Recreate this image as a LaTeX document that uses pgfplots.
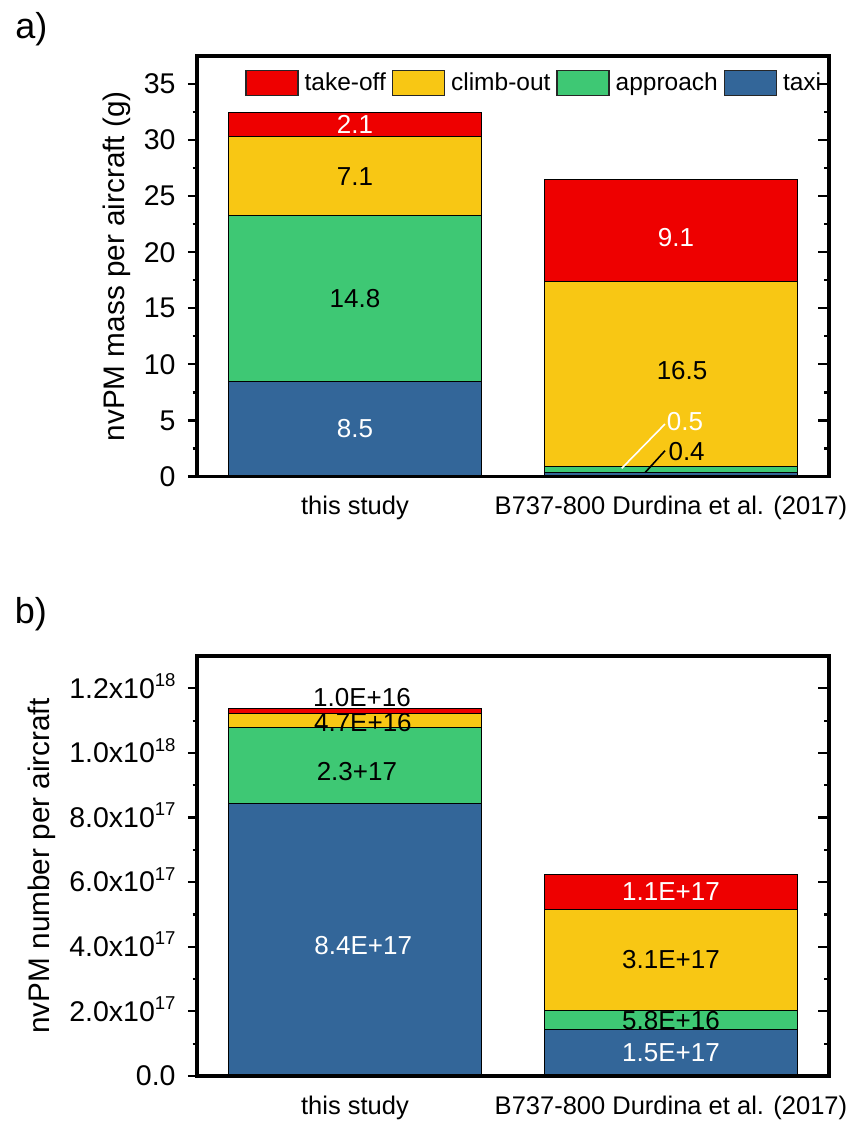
\documentclass[border=0pt]{standalone}
\usepackage{fontspec}
\setmainfont{Liberation Sans}
\usepackage{pgfplots}
\pgfplotsset{compat=1.18}
\definecolor{cTO}{HTML}{EE0000}
\definecolor{cCO}{HTML}{F8C714}
\definecolor{cAP}{HTML}{3EC874}
\definecolor{cTX}{HTML}{336699}
\newcommand{\sups}[1]{\smash{\raisebox{5.85pt}{\fontsize{9.3}{9.3}\selectfont #1}}}
\tikzset{lbl/.style={font=\fontsize{13}{14}\selectfont, inner sep=0pt}}
\pgfplotsset{
  common/.style={
    axis on top,
    scale only axis, width=316pt, xmin=0.5, xmax=2.5,
    ybar stacked, bar width=0.8,
    axis line style={line width=1.6pt},
    ytick pos=left, tick align=outside,
    major tick length=4.5pt, minor tick length=2.2pt,
    every tick/.style={black, line width=1.1pt},
    xtick={1,2}, xticklabels={this study, B737-800 Durdina et al. (2017)},
    xtick style={draw=none},
    xticklabel style={font=\fontsize{12.75}{14}\selectfont, anchor=base, yshift=-14.5pt},
    yticklabel style={font=\fontsize{14.25}{15}\selectfont, anchor=east, inner sep=0pt, xshift=-6pt},
    ylabel style={font=\fontsize{14.85}{16}\selectfont, anchor=base, inner sep=0pt},
    every axis plot/.append style={draw=black, line width=0.5pt},
    scaled y ticks=false,
  },
  rticks/.style={
    scale only axis, width=316pt, xmin=0.5, xmax=2.5,
    hide x axis, axis y line*=right,
    axis line style={line width=1.6pt},
    tick align=inside, major tick length=5.5pt, minor tick length=2.5pt,
    every tick/.style={black, line width=1.1pt},
    yticklabels={}, scaled y ticks=false,
  },
}
\begin{document}
\begin{tikzpicture}
\path[use as bounding box] (0pt,0pt) rectangle (425.5pt,-560.5pt);
\node[anchor=base west, font=\fontsize{18}{18}\selectfont, inner sep=0pt] at (7.5pt,-19pt) {a)};
\node[anchor=base west, font=\fontsize{18}{18}\selectfont, inner sep=0pt] at (7.2pt,-311.5pt) {b)};

% ---------- panel a ----------
\begin{axis}[common, at={(98.5pt,-238.25pt)}, anchor=south west, height=210.25pt,
  ymin=0, ymax=37.5,
  ytick={0,5,10,15,20,25,30,35}, yticklabels={0,5,10,15,20,25,30,35},
  minor ytick={2.5,7.5,12.5,17.5,22.5,27.5,32.5},
  ylabel={nvPM mass per aircraft (g)},
  ylabel style={at={(axis description cs:-0.1155,0.5)}},
  reverse legend, legend columns=4,
  legend style={at={(axis description cs:0.076,0.936)}, anchor=west, draw=none, fill=none,
    inner sep=0pt, font=\fontsize{12.25}{13}\selectfont, nodes={inner sep=3pt},
    /tikz/every even column/.append style={column sep=0pt}},
  legend image code/.code={\draw[#1, draw=black!85, line width=0.6pt] (0pt,-6.25pt) rectangle (26pt,6.25pt);},
]
\addplot[fill=cTX] coordinates {(1,8.45) (2,0.38)};
\addplot[fill=cAP] coordinates {(1,14.8) (2,0.47)};
\addplot[fill=cCO] coordinates {(1,7.1) (2,16.5)};
\addplot[fill=cTO] coordinates {(1,2.1) (2,9.1)};
\legend{taxi, approach, climb-out, take-off}
\coordinate (a1) at (axis cs:1,31.4);
\coordinate (a2) at (axis cs:1,26.73);
\coordinate (a3) at (axis cs:1,15.9);
\coordinate (a4) at (axis cs:1,4.26);
\coordinate (a5) at (axis cs:2.016,21.3);
\coordinate (a6) at (axis cs:2.035,9.45);
\coordinate (w1) at (axis cs:1.844,0.73);
\coordinate (w2) at (axis cs:1.981,4.68);
\coordinate (a7) at (axis cs:1.986,4.89);
\coordinate (k1) at (axis cs:1.918,0.35);
\coordinate (k2) at (axis cs:1.981,2.3);
\coordinate (a8) at (axis cs:1.991,2.21);
\end{axis}
\node[lbl, text=white] at (a1) {2.1};
\node[lbl] at (a2) {7.1};
\node[lbl] at (a3) {14.8};
\node[lbl, text=white] at (a4) {8.5};
\node[lbl, text=white] at (a5) {9.1};
\node[lbl] at (a6) {16.5};
\draw[white, line width=0.8pt] (w1) -- (w2);
\node[lbl, text=white, anchor=west] at (a7) {0.5};
\draw[black, line width=0.8pt] (k1) -- (k2);
\node[lbl, anchor=west] at (a8) {0.4};
\begin{axis}[rticks, at={(98.5pt,-238.25pt)}, anchor=south west, height=210.25pt,
  ymin=0, ymax=37.5, ytick={0,5,10,15,20,25,30,35},
  minor ytick={2.5,7.5,12.5,17.5,22.5,27.5,32.5}]
\end{axis}

% ---------- panel b ----------
\begin{axis}[common, at={(98.5pt,-538pt)}, anchor=south west, height=210pt,
  ymin=0, ymax=1.3e18,
  ytick={0,2e17,4e17,6e17,8e17,1e18,1.2e18},
  yticklabels={0.0, 2.0x10\sups{17}, 4.0x10\sups{17}, 6.0x10\sups{17}, 8.0x10\sups{17}, 1.0x10\sups{18}, 1.2x10\sups{18}},
  minor ytick={1e17,3e17,5e17,7e17,9e17,1.1e18},
  ylabel={nvPM number per aircraft},
  ylabel style={at={(axis description cs:-0.2326,0.5)}},
]
\addplot[fill=cTX] coordinates {(1,8.44e17) (2,1.43e17)};
\addplot[fill=cAP] coordinates {(1,2.34e17) (2,0.59e17)};
\addplot[fill=cCO] coordinates {(1,0.455e17) (2,3.13e17)};
\addplot[fill=cTO] coordinates {(1,0.125e17) (2,1.08e17)};
\coordinate (b1) at (axis cs:1.022,1.1723e18);
\coordinate (b2) at (axis cs:1.025,1.0947e18);
\coordinate (b3) at (axis cs:1.006,0.9426e18);
\coordinate (b4) at (axis cs:1.026,0.4035e18);
\coordinate (b5) at (axis cs:2.0,0.571e18);
\coordinate (b6) at (axis cs:2.0,0.359e18);
\coordinate (b7) at (axis cs:2.0,0.1729e18);
\coordinate (b8) at (axis cs:2.0,0.072e18);
\end{axis}
\node[lbl] at (b1) {1.0E+16};
\node[lbl] at (b2) {4.7E+16};
\node[lbl] at (b3) {2.3+17};
\node[lbl, text=white] at (b4) {8.4E+17};
\node[lbl, text=white] at (b5) {1.1E+17};
\node[lbl] at (b6) {3.1E+17};
\node[lbl] at (b7) {5.8E+16};
\node[lbl, text=white] at (b8) {1.5E+17};
\begin{axis}[rticks, at={(98.5pt,-538pt)}, anchor=south west, height=210pt,
  ymin=0, ymax=1.3e18, ytick={0,2e17,4e17,6e17,8e17,1e18,1.2e18},
  minor ytick={1e17,3e17,5e17,7e17,9e17,1.1e18}]
\end{axis}
\end{tikzpicture}
\end{document}
